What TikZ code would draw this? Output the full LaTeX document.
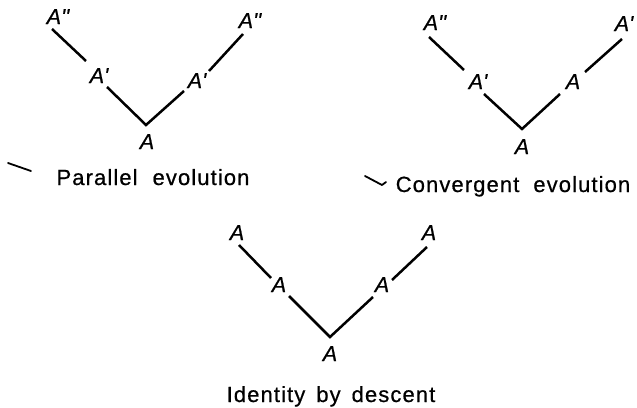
\documentclass[tikz,border=0pt]{standalone}
\usepackage{fontspec}
\setmainfont{Liberation Sans}
\newfontfamily\capfont[LetterSpace=5,FakeBold=0.6]{Liberation Sans}
\newfontfamily\labfont[FakeBold=0.6]{Liberation Sans Italic}
\begin{document}
\begin{tikzpicture}[x=1pt,y=-1pt,
  lab/.style={font=\fontsize{21.5}{21.5}\labfont, inner sep=0pt, anchor=base},
  captext/.style={font=\fontsize{22}{22}\capfont, inner sep=0pt, anchor=base},
  branch/.style={line width=2.5pt},
  stray/.style={line width=1.8pt, line cap=round, line join=round}]
\useasboundingbox (0,0) rectangle (637,407);
% ---------- Parallel evolution ----------
\node[lab] (pLtop) at (58,24) {A''};
\node[lab] (pLmid) at (99,83) {A'};
\node[lab] (pRmid) at (197,88) {A'};
\node[lab] (pRtop) at (250,28) {A''};
\node[lab] (pbot) at (147,149) {A};
\coordinate (p1) at (52,29); \coordinate (p2) at (86,61);
\coordinate (p3) at (107,87); \coordinate (pv) at (146,125);
\coordinate (p4) at (184,91); \coordinate (p5) at (209,71);
\coordinate (p6) at (243,34);
\draw[branch] (p1) -- (p2);
\draw[branch] (p3) -- (pv) -- (p4);
\draw[branch] (p5) -- (p6);
\node[captext] (pcap) at (153,185) {Parallel\hspace{15pt}evolution};
\coordinate (ps1) at (8,163); \coordinate (ps2) at (31,171);
\draw[stray] (ps1) -- (ps2);
% ---------- Convergent evolution ----------
\node[lab] (cLtop) at (435,30) {A''};
\node[lab] (cLmid) at (478,89) {A'};
\node[lab] (cRmid) at (573,89) {A};
\node[lab] (cRtop) at (624,31) {A'};
\node[lab] (cbot) at (522,154) {A};
\coordinate (c1) at (429,37); \coordinate (c2) at (464,70);
\coordinate (c3) at (484,94); \coordinate (cv) at (522,129);
\coordinate (c4) at (560,94); \coordinate (c5) at (585,72);
\coordinate (c6) at (622,39);
\draw[branch] (c1) -- (c2);
\draw[branch] (c3) -- (cv) -- (c4);
\draw[branch] (c5) -- (c6);
\node[captext] (ccap) at (513,192) {Convergent\hspace{14pt}evolution};
\coordinate (cs1) at (365,176); \coordinate (cs2) at (382,185); \coordinate (cs3) at (386,182);
\draw[stray] (cs1) -- (cs2) -- (cs3);
% ---------- Identity by descent ----------
\node[lab] (iLtop) at (237,240) {A};
\node[lab] (iLmid) at (279,292) {A};
\node[lab] (iRmid) at (382,292) {A};
\node[lab] (iRtop) at (429,240) {A};
\node[lab] (ibot) at (330,361) {A};
\coordinate (i1) at (239,245); \coordinate (i2) at (271,278);
\coordinate (i3) at (289,296); \coordinate (iv) at (330,337);
\coordinate (i4) at (373,297); \coordinate (i5) at (392,280);
\coordinate (i6) at (427,247);
\draw[branch] (i1) -- (i2);
\draw[branch] (i3) -- (iv) -- (i4);
\draw[branch] (i5) -- (i6);
\node[captext] (icap) at (331,402) {Identity\hspace{11pt}by\hspace{11pt}descent};
\end{tikzpicture}
\end{document}
